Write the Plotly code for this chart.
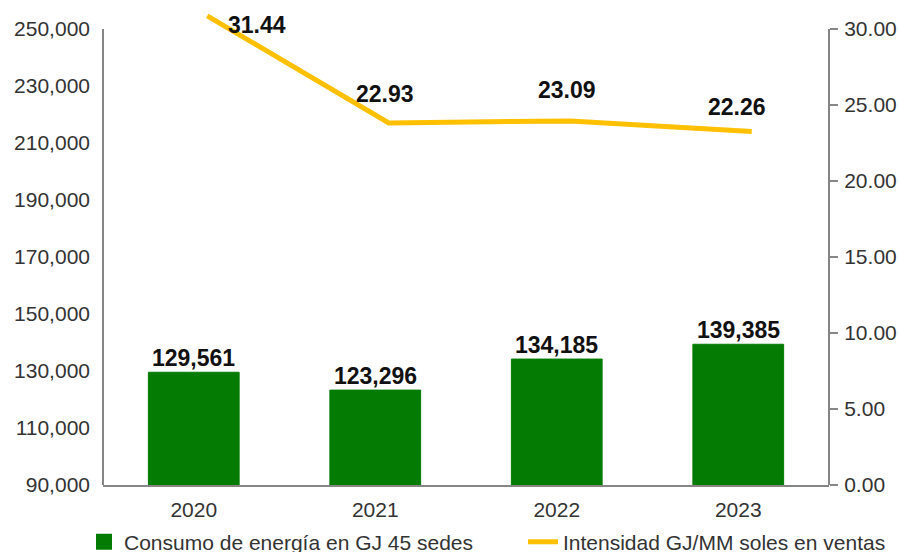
import plotly.graph_objects as go

# ---- data ----
years = ["2020", "2021", "2022", "2023"]
energy_gj = [129561, 123296, 134185, 139385]
intensity = [31.44, 22.93, 23.09, 22.26]
left_ticks = [90000, 110000, 130000, 150000, 170000, 190000, 210000, 230000, 250000]
right_ticks = [0, 5, 10, 15, 20, 25, 30]
bar_name = "Consumo de energía en GJ 45 sedes"
line_name = "Intensidad GJ/MM soles en ventas"

# ---- style / layout constants ----
W, H = 898, 552
ML, MR, MT, MB = 103, 69, 10, 67
plot_w = W - ML - MR
plot_h = H - MT - MB
axis_span_px = 456                      # pixels between 90,000 and 250,000
GREEN = "#047C04"
GOLD = "#FFC000"
GREY = "#868686"
FONT = "Liberation Sans, Arial, sans-serif"
TXT = "#333333"
LBL = "#111111"

y_lo = left_ticks[0]
y_hi = y_lo + (left_ticks[-1] - left_ticks[0]) * plot_h / axis_span_px
y2_hi = right_ticks[-1] * plot_h / axis_span_px
# the line is drawn on its own (hidden) scale, as in the source chart
y3_lo, y3_px_per_unit = -5.85, 12.58
y3_hi = y3_lo + plot_h / y3_px_per_unit
x_shift = 0.0744                        # line drawn slightly right of bar centres

hidden = dict(showticklabels=False, ticks="", showline=False, showgrid=False,
              zeroline=False)

fig = go.Figure()
fig.add_trace(go.Bar(
    x=years, y=energy_gj, name=bar_name, showlegend=False,
    marker=dict(color=GREEN, line=dict(color=GREEN, width=1)),
    xaxis="x", yaxis="y",
))
# legend entry for the bars (larger square symbol)
fig.add_trace(go.Scatter(
    x=[None], y=[None], name=bar_name, mode="markers",
    marker=dict(symbol="square", size=18, color=GREEN),
    xaxis="x", yaxis="y", legend="legend", hoverinfo="skip",
))
fig.add_trace(go.Scatter(
    x=years, y=intensity, name=line_name, mode="lines",
    line=dict(color=GOLD, width=5),
    xaxis="x2", yaxis="y3", cliponaxis=False, legend="legend2",
))
# dummy trace so y2 (right axis) renders
fig.add_trace(go.Scatter(x=years, y=[None]*4, yaxis="y2", xaxis="x",
                         showlegend=False, hoverinfo="skip"))

# bar value labels
for i, v in enumerate(energy_gj):
    fig.add_annotation(x=i, y=v, xref="x", yref="y", text=f"<b>{v:,}</b>",
                       showarrow=False, yanchor="bottom", yshift=-1,
                       font=dict(family=FONT, size=23, color=LBL))

# line value labels (x given as category index)
label_shift = [(50, -9), (-4, 29), (-3, 31), (-15, 24)]
for i, (v, (dx, dy)) in enumerate(zip(intensity, label_shift)):
    fig.add_annotation(x=i, y=v, xref="x2", yref="y3", text=f"<b>{v:.2f}</b>",
                       showarrow=False, xshift=dx, yshift=dy,
                       font=dict(family=FONT, size=23, color=LBL))

# axis lines
fig.add_shape(type="line", xref="paper", yref="y", x0=0, x1=0,
              y0=left_ticks[0], y1=left_ticks[-1], line=dict(color=GREY, width=2))
fig.add_shape(type="line", xref="paper", yref="y2", x0=1, x1=1,
              y0=right_ticks[0], y1=right_ticks[-1], line=dict(color=GREY, width=2))

leg_y = -(542 - (H - MB)) / plot_h
leg_common = dict(orientation="h", yanchor="middle", y=leg_y, xanchor="left",
                  font=dict(family=FONT, size=21, color=TXT),
                  bgcolor="rgba(0,0,0,0)")

fig.update_layout(
    width=W, height=H,
    margin=dict(l=ML, r=MR, t=MT, b=MB, autoexpand=False),
    paper_bgcolor="white", plot_bgcolor="white",
    font=dict(family=FONT, size=21, color=TXT),
    bargap=0.5,
    showlegend=True,
    legend=dict(x=(84 - ML) / plot_w, **leg_common),
    legend2=dict(x=(523 - ML) / plot_w, **leg_common),
    xaxis=dict(type="category", categoryorder="array", categoryarray=years,
               range=[-0.5, len(years) - 0.5], showgrid=False, zeroline=False,
               showline=True, linecolor=GREY, linewidth=2, ticks="",
               ticklabelstandoff=5, tickfont=dict(size=21, color=TXT), automargin=False),
    xaxis2=dict(type="category", categoryorder="array", categoryarray=years,
                overlaying="x", range=[-0.5 - x_shift, len(years) - 0.5 - x_shift],
                automargin=False, **hidden),
    yaxis=dict(range=[y_lo, y_hi], tickvals=left_ticks, tickformat=",d",
               showgrid=False, zeroline=False, showline=False, ticks="",
               ticklabelstandoff=12, tickfont=dict(size=21, color=TXT), automargin=False),
    yaxis2=dict(range=[0, y2_hi], tickvals=right_ticks, tickformat=".2f",
                overlaying="y", side="right", showgrid=False, zeroline=False,
                showline=False, ticks="outside", ticklen=8, tickwidth=2,
                tickcolor=GREY, ticklabelstandoff=2, tickfont=dict(size=21, color=TXT),
                automargin=False),
    yaxis3=dict(range=[y3_lo, y3_hi], overlaying="y", automargin=False, **hidden),
)

fig.write_html("out.html", config={"displayModeBar": False},
               post_script="document.body.style.margin='0';")
